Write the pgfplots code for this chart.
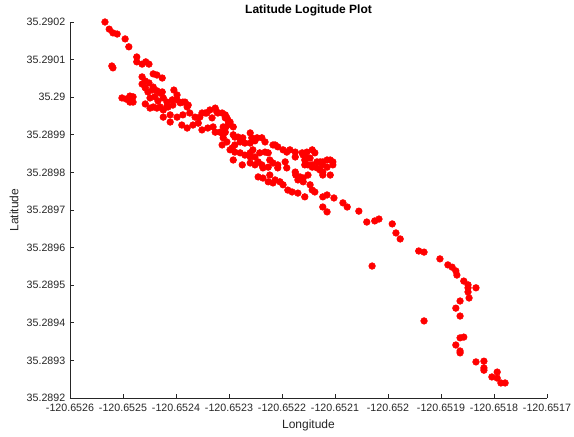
\documentclass[border=0pt]{standalone}
\usepackage{fontspec}
\setmainfont{Liberation Sans}
\usepackage{pgfplots}
\usepackage{pgfplotstable}
\pgfplotsset{compat=1.18}

% GPS fixes, stored as offsets in units of 1e-4 degree
% (dlon from -120.6526, dlat from 35.2892) -- the FPU cannot
% resolve such small steps on the raw coordinates.
\pgfplotstableread{
dlon dlat
0.66 10.00
0.74 9.81
0.81 9.71
0.89 9.68
1.04 9.55
1.11 9.34
0.81 8.78
0.79 8.83
1.26 9.07
1.26 8.94
1.36 8.88
1.43 8.94
1.49 8.88
1.36 8.54
1.57 8.62
1.64 8.59
1.74 8.51
1.42 8.43
1.49 8.38
1.36 8.35
1.57 8.27
1.42 8.25
1.96 8.19
1.64 8.17
1.47 8.14
1.70 8.11
2.02 8.06
0.98 7.98
1.06 7.95
1.13 8.03
1.19 8.01
1.13 7.87
1.19 7.87
1.42 7.82
1.51 7.98
1.60 8.01
1.66 7.90
1.76 7.98
1.83 7.87
1.93 7.93
1.57 7.74
1.70 7.74
1.83 7.77
1.94 7.79
2.08 7.85
2.17 7.87
2.21 7.74
1.55 8.19
1.74 8.14
1.51 7.71
1.64 7.71
1.76 7.66
1.89 7.53
2.02 7.47
2.13 7.53
2.26 7.58
2.36 7.47
2.45 7.47
2.55 7.58
2.64 7.66
2.74 7.71
2.77 7.61
2.68 7.45
2.11 7.26
2.21 7.18
2.32 7.26
2.42 7.31
2.49 7.13
2.60 7.18
2.70 7.21
2.74 7.07
2.83 7.07
2.93 7.18
2.96 7.45
2.98 7.26
3.02 7.34
2.89 7.00
2.89 6.92
3.08 7.00
2.96 6.81
3.08 7.21
1.89 7.34
1.76 7.47
1.85 7.74
2.02 7.93
2.13 7.87
2.23 7.79
2.49 7.58
2.58 7.58
2.79 7.58
2.93 7.53
2.87 7.58
2.93 7.45
2.87 6.73
3.11 6.73
3.21 6.81
3.30 6.78
3.40 7.05
3.43 6.92
3.53 6.92
3.62 6.92
3.40 6.78
3.02 6.60
3.11 6.54
3.21 6.52
3.30 6.46
3.40 6.52
3.45 6.60
3.49 6.41
3.58 6.52
3.68 6.54
3.74 6.52
3.83 6.73
3.92 6.68
4.02 6.60
4.09 6.54
4.15 6.60
4.25 6.54
4.38 6.52
4.47 6.54
3.08 6.33
3.25 6.20
3.40 6.25
3.49 6.20
3.55 6.28
3.62 6.20
3.77 6.33
3.83 6.25
3.92 6.20
4.06 6.28
4.09 6.12
4.25 6.01
4.34 5.88
4.40 5.85
4.49 5.93
3.55 5.88
3.64 5.85
3.77 5.93
3.87 5.80
3.96 5.75
4.02 5.67
3.74 5.75
4.47 6.38
4.49 6.20
4.25 6.41
4.40 6.46
4.43 6.33
4.43 6.20
4.57 6.60
4.62 6.52
4.53 6.38
4.57 6.20
4.66 6.28
4.72 6.28
4.77 6.28
4.85 6.33
4.91 6.33
4.96 6.28
4.96 6.20
4.66 6.12
4.72 6.06
4.77 6.01
4.77 5.93
4.91 5.93
4.26 5.93
4.30 5.80
4.40 5.75
4.53 5.67
4.57 5.53
4.62 5.48
4.19 5.48
4.30 5.45
4.43 5.35
4.77 5.35
4.85 5.40
4.98 5.32
5.15 5.19
5.23 5.08
4.77 5.08
4.85 4.95
5.45 4.97
5.60 4.68
5.75 4.71
5.83 4.76
6.08 4.63
6.15 4.39
6.23 4.23
6.58 3.91
6.68 3.88
5.70 3.51
6.98 3.70
7.13 3.54
7.21 3.48
7.28 3.38
7.30 3.27
7.43 3.11
7.51 3.01
7.51 2.93
7.51 2.82
7.66 2.93
7.53 2.66
7.36 2.58
7.28 2.39
7.36 2.18
6.68 2.05
7.36 1.60
7.43 1.62
7.28 1.41
7.36 1.25
7.36 1.20
7.66 0.96
7.81 0.98
7.81 0.80
7.81 0.74
8.06 0.69
7.96 0.56
8.06 0.53
8.13 0.40
8.21 0.40
2.98 7.39
2.89 7.21
2.93 7.07
3.11 6.94
3.17 6.94
3.26 6.92
3.68 6.81
3.87 6.73
4.57 6.14
4.76 6.20
4.85 6.14
3.06 6.65
3.40 6.41
3.64 6.12
3.74 6.14
3.92 6.12
3.83 5.72
4.11 5.53
3.49 6.84
}\gps

\begin{document}
\begin{tikzpicture}
\begin{axis}[
    scale only axis,
    width=357.75pt,
    height=282pt,
    xmin=0, xmax=9,
    ymin=0, ymax=10,
    xtick={0,1,...,9},
    ytick={0,1,...,10},
    xticklabels={-120.6526,-120.6525,-120.6524,-120.6523,-120.6522,-120.6521,-120.652,-120.6519,-120.6518,-120.6517},
    yticklabels={35.2892,35.2893,35.2894,35.2895,35.2896,35.2897,35.2898,35.2899,35.29,35.2901,35.2902},
    axis x line*=bottom,
    axis y line*=left,
    axis line style={black!85, line width=0.5pt},
    tick align=inside,
    major tick length=3.3pt,
    tick style={black!85, line width=0.5pt},
    tick label style={font=\fontsize{8}{9}\selectfont, text=black!85},
    xticklabel style={yshift=-1pt},
    every axis title shift=0pt,
    title={\textbf{Latitude Logitude Plot}},
    title style={font=\fontsize{9}{10}\selectfont, at={(axis description cs:0.5,1.032)}, anchor=center},
    xlabel={Longitude},
    ylabel={Latitude},
    label style={font=\fontsize{9}{10}\selectfont, text=black!85},
    xlabel style={at={(axis description cs:0.5,-0.072)}, anchor=center},
    ylabel style={at={(axis description cs:-0.117,0.5)}, anchor=center},
    clip=false,
]
\addplot[only marks, mark=*, mark size=2.5pt, color=red,
    mark options={fill=red, draw=red}] table[x=dlon, y=dlat] {\gps};
\end{axis}
\pgfresetboundingbox
\path[use as bounding box] (-52.5pt,-28.5pt) rectangle (378pt,298.5pt);
\end{tikzpicture}
\end{document}
